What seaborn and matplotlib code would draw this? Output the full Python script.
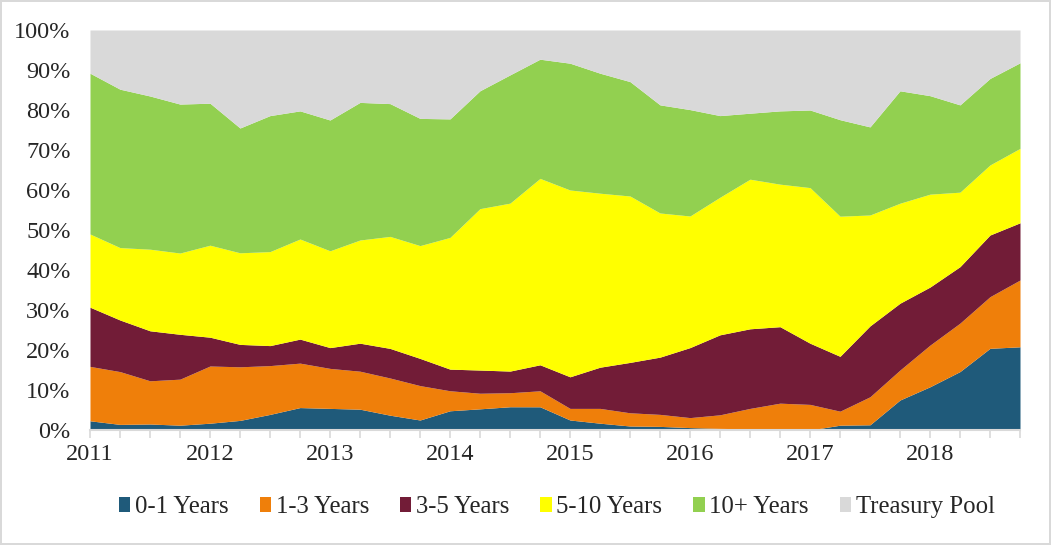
import numpy as np
import pandas as pd
import matplotlib
matplotlib.use("Agg")
import matplotlib.pyplot as plt
import seaborn as sns
from matplotlib.patches import Patch
from matplotlib.ticker import PercentFormatter

# ---- data (quarterly, 2011 Q1 .. 2018 Q4), percent of portfolio ----
years = [2011, 2012, 2013, 2014, 2015, 2016, 2017, 2018]
series_names = ["0-1 Years", "1-3 Years", "3-5 Years", "5-10 Years", "10+ Years", "Treasury Pool"]

y0_1 = [2.3, 1.4, 1.5, 1.2, 1.7, 2.4, 3.9, 5.6, 5.4, 5.2, 3.7, 2.5, 4.8, 5.3, 5.8, 5.8,
        2.5, 1.7, 1.0, 0.9, 0.6, 0.4, 0.3, 0.0, 0.0, 1.2, 1.3, 7.5, 10.8, 14.6, 20.4, 20.8]
y1_3 = [13.6, 13.2, 10.8, 11.5, 14.3, 13.4, 12.2, 11.1, 10.0, 9.5, 9.3, 8.6, 5.0, 3.9, 3.5, 4.0,
        2.9, 3.7, 3.3, 3.0, 2.5, 3.4, 5.1, 6.7, 6.4, 3.5, 7.0, 7.5, 10.4, 12.1, 12.9, 16.7]
y3_5 = [14.8, 12.9, 12.5, 11.2, 7.2, 5.6, 5.0, 6.0, 5.2, 7.0, 7.4, 6.8, 5.4, 5.8, 5.4, 6.5,
        7.9, 10.3, 12.6, 14.3, 17.5, 20.0, 19.9, 19.1, 15.3, 13.7, 17.7, 16.7, 14.5, 14.1, 15.4, 14.3]
y5_10 = [18.3, 18.1, 20.4, 20.3, 23.0, 22.9, 23.5, 25.0, 24.2, 25.8, 28.0, 28.2, 32.9, 40.4, 41.9, 46.6,
         46.7, 43.5, 41.6, 36.0, 32.9, 34.4, 37.4, 35.6, 38.9, 35.0, 27.7, 25.0, 23.2, 18.6, 17.5, 18.6]
y10p = [40.2, 39.6, 38.3, 37.2, 35.5, 31.2, 34.0, 32.0, 32.7, 34.4, 33.2, 31.8, 29.6, 29.5, 32.0, 29.8,
        31.7, 30.0, 28.6, 27.0, 26.6, 20.4, 16.5, 18.3, 19.4, 24.1, 22.0, 28.1, 24.6, 21.8, 21.6, 21.4]
ytreas = [10.8, 14.8, 16.5, 18.5, 18.3, 24.5, 21.4, 20.2, 22.5, 18.1, 18.4, 22.1, 22.2, 15.2, 11.2, 7.3,
          8.3, 10.8, 12.9, 18.7, 19.9, 21.4, 20.8, 20.2, 20.0, 22.4, 24.2, 15.2, 16.4, 18.7, 12.1, 8.2]

colors = ["#1F5A7A", "#EF7F0A", "#721C37", "#FFFF00", "#92D050", "#D9D9D9"]

df = pd.DataFrame({n: v for n, v in zip(series_names, [y0_1, y1_3, y3_5, y5_10, y10p, ytreas])})
# 100% stacked: normalise each quarter
df = df.div(df.sum(axis=1), axis=0)
x = np.arange(len(df))

sns.set_theme(style="white")
plt.rcParams["font.family"] = ["Liberation Serif", "DejaVu Serif"]

fig = plt.figure(figsize=(10.51, 5.45), dpi=100)
fig.patch.set_edgecolor("#D9D9D9")
fig.patch.set_linewidth(1.5)
ax = fig.add_axes([90 / 1051, (545 - 430) / 545, 930 / 1051, 400 / 545])

ax.stackplot(x, *[df[n].values for n in series_names], colors=colors, linewidth=0, antialiased=True)

ax.set_xlim(0, len(df) - 1)
ax.set_ylim(0, 1)
ax.yaxis.set_major_locator(plt.MultipleLocator(0.1))
ax.yaxis.set_major_formatter(PercentFormatter(1.0, decimals=0))

xt_labels = [str(years[i // 4]) if i % 4 == 0 else "" for i in x]
ax.set_xticks(x)
ax.set_xticklabels(xt_labels)

for side in ["top", "right", "left"]:
    ax.spines[side].set_visible(False)
ax.spines["bottom"].set_color("#D9D9D9")
ax.spines["bottom"].set_linewidth(1.5)

ax.tick_params(axis="x", which="major", length=6, width=1.2, color="#D9D9D9",
               labelsize=17.5, pad=4, bottom=True)
ax.tick_params(axis="y", length=0, labelsize=17.5, pad=14)
ax.grid(False)

handles = [Patch(facecolor=c, edgecolor="none") for c in colors]
fig.legend(handles, series_names, loc="center", bbox_to_anchor=(0.53, 0.07), ncol=6,
           frameon=False, fontsize=17.8, handlelength=0.45, handleheight=0.55,
           handletextpad=0.2, columnspacing=1.25)

fig.savefig("out.png", dpi=100)
